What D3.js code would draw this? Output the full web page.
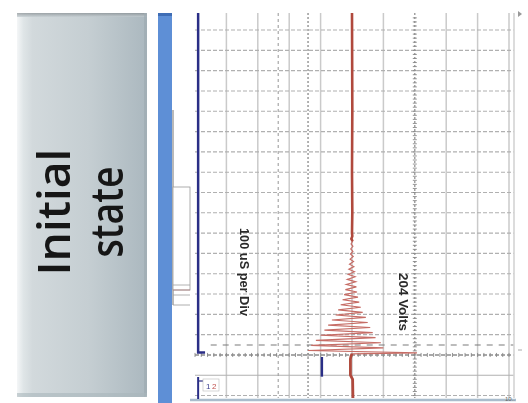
<!DOCTYPE html>
<html><head><meta charset="utf-8">
<script src="https://cdn.jsdelivr.net/npm/d3@7"></script>
<style>html,body{margin:0;padding:0;background:#fff;} svg{display:block}</style>
</head><body>
<script>
// ---- data ----
const titleLines = ["Initial", "state"];
const timeLabel = "100 uS per Div";
const voltLabel = "204 Volts";
// graticule (time in microseconds, voltage in volts; 100 uS/div, 100 V/div)
const timeGrid = [-200,-100,0,100,200,300,400,500,600,700,800,900,1000,1100,1200,1300,1400,1500,1600];
const voltGrid = [-400,-300,-200,-100,0,100,200,300,400,500];
// channel 2 (red) trace: ringing after switching
const ch2Time = [-212,-120,-100,-20,-5,5,
  10,22,35,47,60,72,85,97,110,122,135,147,160,172,185,197,210,222,235,247,260,272,285,297,
  310,322,335,347,360,372,385,397,410,422,435,447,460,472,485,497,510,522,535,547,560,572,585,600,
  700,900,1200,1684];
const ch2Volt = [3,2,-5,-5,-3,0,
  207,-140,100,-130,92,-115,75,-100,66,-88,58,-76,50,-64,44,-52,34,-44,28,-36,23,-30,19,-25,
  16,-21,14,-18,12,-15,10,-12,8,-10,6,-8,5,-6,4,-5,3,-4,3,-3,2,-2,1,0,
  1,0,1,0];
// channel 1 (blue) trace
const ch1Time = [1684, 12, 12];
const ch1Volt = [-490, -490, -468];
// cursors
const cursorTime = [49];
const cursorVoltDashed = [-235];
const cursorVoltDotted = [-140];
const markerTime = [-10, -107];
const markerVolt = [-96];

// ---- drawing ----
const W = 528, H = 403;
const svg = d3.select("body").append("svg").attr("width", W).attr("height", H);
const defs = svg.append("defs");
const g1 = defs.append("linearGradient").attr("id","boxg").attr("x1","0").attr("x2","1").attr("y1","0").attr("y2","0");
[["0%","#f4f6f7"],["5%","#dfe5e7"],["12%","#d2d9dc"],["55%","#c5ced2"],["100%","#abb8bf"]]
  .forEach(s=>g1.append("stop").attr("offset",s[0]).attr("stop-color",s[1]));
const g2 = defs.append("linearGradient").attr("id","topg").attr("x1","0").attr("x2","0").attr("y1","0").attr("y2","1");
[["0%","#858c90"],["100%","#c6cfd3"]].forEach(s=>g2.append("stop").attr("offset",s[0]).attr("stop-color",s[1]));
defs.append("filter").attr("id","blur").append("feGaussianBlur").attr("stdDeviation",0.45);
defs.append("filter").attr("id","blur2").append("feGaussianBlur").attr("stdDeviation",0.6);

// left title box
svg.append("rect").attr("x",17).attr("y",13).attr("width",130).attr("height",384).attr("rx",3).attr("fill","url(#boxg)");
svg.append("rect").attr("x",17).attr("y",13).attr("width",130).attr("height",4).attr("fill","url(#topg)").attr("opacity",0.7);
svg.append("rect").attr("x",144).attr("y",13).attr("width",3).attr("height",384).attr("fill","#9eabb2").attr("opacity",0.7);
svg.append("rect").attr("x",17).attr("y",393).attr("width",130).attr("height",4).attr("fill","#a9b5bb").attr("opacity",0.6);
const tg = svg.append("g").attr("filter","url(#blur)");
const lineX = [70, 123];
const lineLen = [127, 91];
titleLines.forEach((t,i)=>{
  tg.append("text").attr("transform",`translate(${lineX[i]},212) rotate(-90)`)
    .attr("text-anchor","middle").attr("font-family","'Open Sans', Lato, sans-serif")
    .attr("font-size",46).attr("font-weight",600).attr("fill","#141414")
    .attr("textLength",lineLen[i]).attr("lengthAdjust","spacingAndGlyphs").text(t);
});

// side panel of the scope window
svg.append("rect").attr("x",158).attr("y",13).attr("width",14).attr("height",390).attr("fill","#5e8fd6");
svg.append("rect").attr("x",158).attr("y",13).attr("width",14).attr("height",3).attr("fill","#3f6db5");
svg.append("line").attr("x1",173).attr("x2",173).attr("y1",110).attr("y2",305).attr("stroke","#8a8a8a").attr("stroke-width",1.2);
svg.append("rect").attr("x",173).attr("y",187).attr("width",17).attr("height",103).attr("fill","#fff").attr("stroke","#9a9a9a").attr("stroke-width",0.8);
[285,290,295].forEach((y,i)=>svg.append("line").attr("x1",173).attr("x2",190).attr("y1",y).attr("y2",y)
  .attr("stroke", i===1?"#b08080":"#a0a0a0").attr("stroke-width",0.8));
svg.append("line").attr("x1",173).attr("x2",190).attr("y1",305).attr("y2",305).attr("stroke","#999").attr("stroke-width",0.8);

// scales
const x = d3.scaleLinear().domain([-500, 500]).range([195, 509]);
const y = d3.scaleLinear().domain([-212, 1684]).range([398, 13]);

const scope = svg.append("g").attr("filter","url(#blur)");
// vertical graticule
scope.selectAll(".vg").data(voltGrid).join("line")
  .attr("x1",d=>x(d)).attr("x2",d=>x(d)).attr("y1",y(1684)).attr("y2",y(-212))
  .attr("stroke",d=>d===200?"#8a8a8a":"#cacaca").attr("stroke-width",d=>d===200?1.2:1.5)
  .attr("stroke-dasharray",d=>d===200?"2,2":null);
// horizontal graticule
scope.selectAll(".hg").data(timeGrid).join("line")
  .attr("x1",x(-500)).attr("x2",x(515)).attr("y1",d=>y(d)).attr("y2",d=>y(d))
  .attr("stroke",d=>d===0?"#8c8c8c":"#b0b0b0").attr("stroke-width",d=>d===0?1.5:1.1)
  .attr("stroke-dasharray",d=>d===-100?null:"4,2");
// minor ticks on centre axes
const minorT = d3.range(-200, 1680, 20);
scope.selectAll(".mt").data(minorT).join("line")
  .attr("x1",x(200)-2).attr("x2",x(200)+2).attr("y1",d=>y(d)).attr("y2",d=>y(d))
  .attr("stroke","#888").attr("stroke-width",0.9);
const minorV = d3.range(-500, 520, 20);
scope.selectAll(".mv").data(minorV).join("line")
  .attr("x1",d=>x(d)).attr("x2",d=>x(d)).attr("y1",y(0)-2).attr("y2",y(0)+2)
  .attr("stroke","#888").attr("stroke-width",0.9);

// cursors
scope.selectAll(".cd").data(cursorVoltDashed).join("line")
  .attr("x1",d=>x(d)).attr("x2",d=>x(d)).attr("y1",y(1684)).attr("y2",y(-212))
  .attr("stroke","#a0a0a0").attr("stroke-width",1.1).attr("stroke-dasharray","3,3");
scope.selectAll(".cdd").data(cursorVoltDotted).join("line")
  .attr("x1",d=>x(d)).attr("x2",d=>x(d)).attr("y1",y(1684)).attr("y2",y(-212))
  .attr("stroke","#808080").attr("stroke-width",1.2).attr("stroke-dasharray","2,2");
scope.selectAll(".ct").data(cursorTime).join("line")
  .attr("x1",x(-450)).attr("x2",x(515)).attr("y1",d=>y(d)).attr("y2",d=>y(d))
  .attr("stroke","#7a7a7a").attr("stroke-width",1.2).attr("stroke-dasharray","6,6");

// frame
scope.append("line").attr("x1",514).attr("x2",514).attr("y1",13).attr("y2",398).attr("stroke","#d0d0d0").attr("stroke-width",1.5);
svg.append("line").attr("x1",190).attr("x2",516).attr("y1",400).attr("y2",400).attr("stroke","#a9bccc").attr("stroke-width",2.5);
svg.append("path").attr("d","M518,11 l4,3 l-4,3 z").attr("fill","#999");
svg.append("line").attr("x1",518).attr("x2",522).attr("y1",350).attr("y2",350).attr("stroke","#aaa");
svg.append("text").attr("x",510).attr("y",401).attr("font-size",6).attr("fill","#666").attr("text-anchor","middle").attr("font-family","Liberation Sans, sans-serif").text("10..");

// traces
const line = d3.line().x(d=>x(d.v)).y(d=>y(d.t));
const ch2 = ch2Time.map((t,i)=>({t, v: ch2Volt[i]}));
const ch1 = ch1Time.map((t,i)=>({t, v: ch1Volt[i]}));
const traces = svg.append("g").attr("filter","url(#blur)");
traces.append("path").attr("d",line(ch2)).attr("fill","none").attr("stroke","#c66d66").attr("stroke-width",1.15);
traces.append("path").attr("d",line(ch2.filter(d=>d.t<=5))).attr("fill","none").attr("stroke","#b04a3d").attr("stroke-width",2.8);
traces.append("path").attr("d",line(ch2.filter(d=>d.t>=560))).attr("fill","none").attr("stroke","#b04a3d").attr("stroke-width",2.6);
traces.append("path").attr("d",line(ch1)).attr("fill","none").attr("stroke","#2c2f86").attr("stroke-width",2.5);
traces.selectAll(".mk").data(markerVolt).join("line")
  .attr("x1",d=>x(d)).attr("x2",d=>x(d)).attr("y1",y(markerTime[0])).attr("y2",y(markerTime[1]))
  .attr("stroke","#2c2f86").attr("stroke-width",2.5);
// channel markers at bottom left
traces.append("line").attr("x1",x(-490)).attr("x2",x(-490)).attr("y1",377).attr("y2",399).attr("stroke","#2c2f86").attr("stroke-width",2);
traces.append("line").attr("x1",x(-490)).attr("x2",x(-470)).attr("y1",381).attr("y2",381).attr("stroke","#2c2f86").attr("stroke-width",1.2);
traces.append("rect").attr("x",203).attr("y",379).attr("width",16).attr("height",12).attr("fill","#fff").attr("stroke","#bbb").attr("stroke-width",0.6);
traces.append("text").attr("x",206).attr("y",389).attr("font-size",8).attr("fill","#3a3f8f").attr("font-family","Liberation Sans, sans-serif").text("1");
traces.append("text").attr("x",212).attr("y",389).attr("font-size",8).attr("fill","#c0504d").attr("font-family","Liberation Sans, sans-serif").text("2");

// labels
const lab = svg.append("g").attr("filter","url(#blur2)");
lab.append("text").attr("transform","translate(240,272) rotate(90)")
  .attr("text-anchor","middle").attr("font-family","'Liberation Sans', Arial, sans-serif").attr("font-weight","bold")
  .attr("font-size",12).attr("fill","#2a2a2a").attr("textLength",88).attr("lengthAdjust","spacingAndGlyphs").text(timeLabel);
lab.append("text").attr("transform","translate(399,302) rotate(90)")
  .attr("text-anchor","middle").attr("font-family","'Liberation Sans', Arial, sans-serif").attr("font-weight","bold")
  .attr("font-size",12).attr("fill","#2a2a2a").attr("textLength",58).attr("lengthAdjust","spacingAndGlyphs").text(voltLabel);
</script>
</body></html>
